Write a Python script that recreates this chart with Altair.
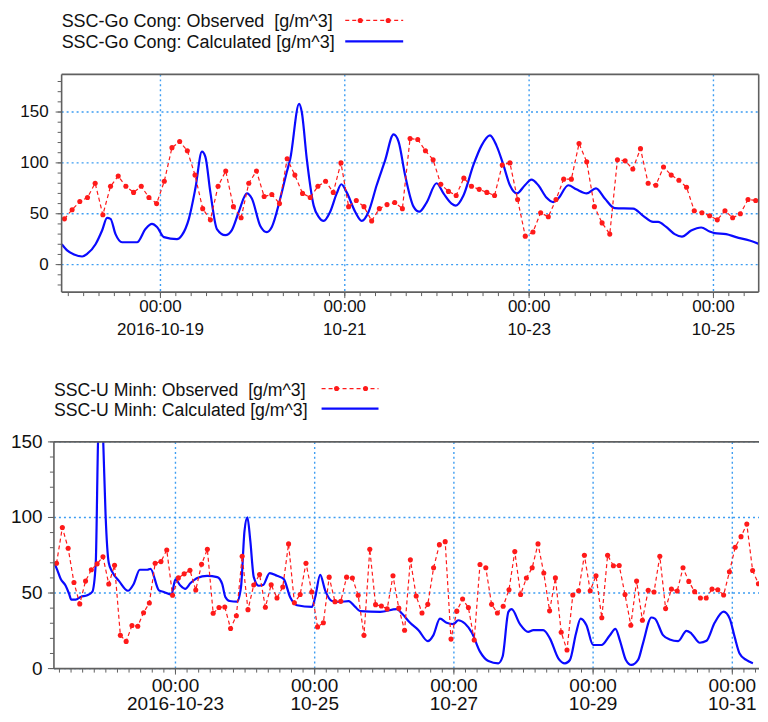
import altair as alt
import pandas as pd

FONT = "Liberation Sans, Arial, sans-serif"
RED = "#ff1a1a"
BLUE = "#0a0aff"
GRID = "#3d9df2"
FRAME = "#606060"
TXT = "#111111"
HOUR = 3600 * 1000


def ts(s):
    return int(pd.Timestamp(s, tz="UTC").value // 10**6)


# ---------------- Top panel: SSC-Go Cong ----------------
gc_obs_start = "2016-10-17 23:00"  # observed every 2 hours
gc_obs = [45, 54, 62, 66, 80, 49, 77, 87, 77, 71, 77, 66, 60, 82, 115, 121, 112, 88, 55, 44,
          77, 92, 57, 46, 80, 92, 67, 69, 60, 104,
          88, 70, 66, 77, 82, 71, 100, 57, 63, 57, 43, 55, 59, 61, 55, 124, 123, 112, 103, 79,
          72, 68, 85, 77, 74, 71, 68, 98, 100, 64,
          28, 32, 51, 47, 64, 84, 84, 119, 101, 57, 41, 30, 103, 102, 94, 114, 80, 78, 96, 88,
          83, 76, 53, 51, 48, 44, 53, 46, 50, 64, 63]

gc_calc_ref = "2016-10-18 00:00"  # hours counted from here
gc_calc_h = [-1.7, -0.3, 1.5, 3.6, 4.9, 7.1, 8.8, 10.1, 11.0, 12.3, 14.0, 17.9, 20.1, 21.8, 23.1,
             24.9, 28.3, 29.6, 31.4, 33.1, 34.8, 35.7, 37.0, 38.7, 40.9, 42.6, 44.4, 46.5, 47.8,
             50.0, 51.7, 53.0, 55.2, 56.9, 57.8, 60.1, 60.8, 62.1, 63.9, 65.2, 66.5, 68.2, 69.9,
             71.1, 72.5, 74.7, 76.4, 78.2, 80.3, 82.5, 84.7, 86.0, 87.7, 89.9, 91.4, 93.3, 95.9,
             97.7, 99.8, 100.9, 102.9, 105.5, 107.6, 109.8, 111.5, 113.3, 115.0, 116.8, 118.9,
             120.6, 122.4, 124.5, 126.3, 127.6, 130.2, 132.3, 135.0, 137.4, 139.7, 142.3, 147.1,
             149.7, 152.3, 153.6, 155.7, 157.9, 159.8, 162.2, 164.8, 167.0, 168.3, 171.3, 173.9,
             177.4, 179.8]
gc_calc_v = [20, 14, 10, 8, 10.5, 20, 33.5, 46, 45, 30, 22, 22, 35, 40, 37,
             27, 25, 29, 45, 75, 111, 106, 71, 35, 29, 34, 52, 70, 65,
             38, 32, 37, 65, 91, 104, 158, 150, 104, 58, 47, 43, 52, 70,
             79, 71, 52, 43, 52, 78, 102.5, 128, 121, 88, 57, 52, 61, 80,
             70, 60, 58, 68, 98, 117, 127, 117, 98, 78, 70, 78,
             83.5, 78, 66, 61.5, 65, 78, 74, 70, 75, 65, 55.5, 55,
             48, 42, 42, 37, 30, 27.6, 33.5, 36.5, 32.5, 31, 30, 27,
             23.7, 20.4]

gc_xdomain = ["2016-10-17 22:16", "2016-10-25 11:47"]
gc_ydomain = [-27, 187]
gc_xticks = ["2016-10-19", "2016-10-21", "2016-10-23", "2016-10-25"]
gc_time_labels = ["00:00", "00:00", "00:00", "00:00"]
gc_date_labels = ["2016-10-19", "10-21", "10-23", "10-25"]
gc_yticks = [0, 50, 100, 150]
gc_ylabels = ["0", "50", "100", "150"]
gc_names = ["SSC-Go Cong: Observed\u00a0\u00a0[g/m^3]", "SSC-Go Cong: Calculated [g/m^3]"]

# ---------------- Bottom panel: SSC-U Minh ----------------
um_obs_start = "2016-10-21 07:00"
um_obs = [69.7, 93.4, 79.6, 57, 42.8, 57.9, 65.4, 69.3, 74, 56, 68.4, 22, 18, 28.5, 28, 37, 43.4,
          69.7, 70.8, 78.5, 48.5, 60, 62.7, 65, 52, 69, 79, 36.6, 40.4, 40.8, 26.5, 35, 74.3, 39,
          55.3, 62.3, 40.6, 55.5, 46.7, 54, 82.5,
          43.6, 49, 69.7, 50.7, 27.6, 30.3, 60.5, 44.3, 44.5, 60.5, 59.9, 48.5, 22, 79, 42.3,
          41.4, 39.5, 61.4, 40, 25.4, 72, 48, 36.8, 42.5, 66.7, 82, 84, 19.5, 38, 46, 40.4, 18.9,
          68.9, 66.7, 42.5, 36.8, 41.2, 52.2, 77.4, 49, 59.9,
          66.7, 82.5, 63.2, 38.2, 60, 24, 12.3, 48.7, 51.5, 75, 51.5, 61.4, 33.6, 75, 68, 68.2,
          49, 28.7, 57.9, 32, 51.8, 50.7, 74.3, 39.7, 52.6, 51.3, 66.7, 57.7, 50.9, 46.7, 46.7,
          52.6, 52.2, 48.7, 64, 80.3, 87.3, 95.6, 64.9, 56.1, 60]

um_calc_ref = "2016-10-21 00:00"
um_calc_h = [6.1, 7.3, 8.4, 10.1, 11.3, 12.1, 13.6, 15.3, 17.6, 19.3, 20.5, 21.3, 22.2, 23.1,
             23.9, 25.0, 26.2, 28.5, 31.6, 33.6, 35.7, 38.3, 39.4, 42.3, 44.0, 46.6, 48.0, 49.7,
             51.4, 53.2, 55.5, 58.9, 62.4, 64.1, 65.2, 66.7, 69.2, 70.6, 71.8, 72.8, 73.8, 75.0,
             76.7, 78.2, 80.5, 83.0, 85.3, 87.6, 89.9, 95.1, 96.2, 97.9, 99.6, 102.0, 104.8,
             107.7, 110.0, 111.7, 118.6, 124.3, 126.1, 128.9, 131.8, 135.0, 136.9, 139.2, 141.5,
             143.8, 145.5, 147.8, 150.2, 153.0, 155.9, 159.3, 160.8, 162.8, 163.9, 166.8, 169.6,
             171.4, 174.8, 177.1, 180.0, 182.3, 184.0, 186.1, 187.7, 189.7, 192.0, 194.9, 197.8,
             199.7, 201.2, 203.3, 205.2, 207.5, 209.2, 212.1, 213.3, 216.1, 218.4, 221.3, 224.2,
             225.9, 228.8, 231.1, 233.9, 237.0, 239.1, 240.8, 242.5, 244.8, 247.1]
um_calc_v = [70.4, 65, 59.4, 55, 49.6, 45.6, 45.6, 47.4, 48.5, 50.7, 69, 150, 195, 150,
             102, 70, 64, 58, 51.5, 56, 65.4, 65.4, 66, 51.8, 50.7, 49, 59, 55,
             52.8, 56.6, 60, 61.4, 60.5, 56, 47.4, 44.7, 44.3, 54, 91, 100, 84.6, 60.5,
             54.8, 55.3, 63.2, 61.4, 59.4, 47, 41.9, 40.8, 47.4, 62, 51.8, 44.7, 44.1,
             44.7, 40.8, 38, 37.5, 39.3, 36.4, 30.3, 25.4, 18.2, 22, 33, 30.3,
             29.4, 32, 29.8, 23.7, 11.2, 5, 3.5, 8, 37.5, 39.3, 29.4, 24.3,
             25.4, 25.4, 20, 6.8, 3.5, 5.7, 23.2, 33.1, 28.7, 15.6, 15.6, 22.1,
             26.3, 18.9, 5.7, 2.4, 5.7, 16.7, 33.8, 33.1, 22.1, 19.3, 18.2, 25,
             23.2, 17.1, 18.4, 30.3, 37.7, 33.1, 21, 10, 5.7, 3.5]

um_xdomain = ["2016-10-21 06:06", "2016-10-31 09:12"]
um_ydomain = [0, 150]
um_xticks = ["2016-10-23", "2016-10-25", "2016-10-27", "2016-10-29", "2016-10-31"]
um_time_labels = ["00:00", "00:00", "00:00", "00:00", "00:00"]
um_date_labels = ["2016-10-23", "10-25", "10-27", "10-29", "10-31"]
um_yticks = [0, 50, 100, 150]
um_ylabels = ["0", "50", "100", "150"]
um_names = ["SSC-U Minh: Observed\u00a0\u00a0[g/m^3]", "SSC-U Minh: Calculated [g/m^3]"]

LEFT = 45.3  # room kept left of the (shared) view origin


def panel(obs_start, obs, calc_ref, calc_h, calc_v, xdom, ydom, xticks, time_labels,
          date_labels, yticks, ylabels, names, PW, H, xo, right_frame, axfs, ylab_dx, xlab_dy,
          legfs, leg_text_y, leg_line_y, leg_x, leg_dots):
    t0 = ts(obs_start)
    df_obs = pd.DataFrame({"t": [t0 + 2 * HOUR * i for i in range(len(obs))], "v": obs})
    r0 = ts(calc_ref)
    df_calc = pd.DataFrame({"t": [r0 + h * HOUR for h in calc_h], "v": calc_v})

    d0, d1 = ts(xdom[0]), ts(xdom[1])
    xvals = [ts(s) for s in xticks]
    xs = alt.Scale(type="utc", domain=[d0, d1], nice=False, range=[xo, xo + PW])
    ys = alt.Scale(domain=ydom, nice=False, zero=False)
    R = xo + PW

    def X(f):
        return alt.X(f, scale=xs, axis=None)

    def Y(f):
        return alt.Y(f, scale=ys, axis=None)

    df_xt = pd.DataFrame({"t": xvals, "hm": time_labels, "lab": date_labels})
    df_yt = pd.DataFrame({"v": yticks, "lab": ylabels})
    one = alt.Chart(alt.Data(values=[{"k": 1}]))

    # grid
    gx = alt.Chart(df_xt).mark_rule(color=GRID, strokeWidth=1.4, strokeDash=[2, 3]).encode(
        x=X("t:T"), y=alt.value(0), y2=alt.value(H))
    gy = alt.Chart(df_yt).mark_rule(color=GRID, strokeWidth=1.4, strokeDash=[2, 3]).encode(
        y=Y("v:Q"), x=alt.value(xo), x2=alt.value(R))

    # frame
    fr = [one.mark_rule(color=FRAME, strokeWidth=1.6).encode(
              x=alt.value(xo), x2=alt.value(R), y=alt.value(0)),
          one.mark_rule(color=FRAME, strokeWidth=1.6).encode(
              x=alt.value(xo), x2=alt.value(R), y=alt.value(H)),
          one.mark_rule(color=FRAME, strokeWidth=1.6).encode(
              x=alt.value(xo), y=alt.value(0), y2=alt.value(H))]
    if right_frame:
        fr.append(one.mark_rule(color=FRAME, strokeWidth=1.6).encode(
            x=alt.value(R), y=alt.value(0), y2=alt.value(H)))

    # ticks
    xminor = list(range(ts(xdom[0][:10]), d1 + 1, 4 * HOUR))
    xminor = [t for t in xminor if d0 <= t <= d1]
    yminor = [v for v in range(-100, 200, 10) if ydom[0] <= v <= ydom[1]]
    xt = alt.Chart(pd.DataFrame({"t": xminor})).mark_rule(color=FRAME, strokeWidth=1).encode(
        x=X("t:T"), y=alt.value(H), y2=alt.value(H + 4))
    yt = alt.Chart(pd.DataFrame({"v": yminor})).mark_rule(color=FRAME, strokeWidth=1).encode(
        y=Y("v:Q"), x=alt.value(xo), x2=alt.value(xo - 4))
    xT = alt.Chart(df_xt).mark_rule(color=FRAME, strokeWidth=1).encode(
        x=X("t:T"), y=alt.value(H), y2=alt.value(H + 6))
    yT = alt.Chart(df_yt).mark_rule(color=FRAME, strokeWidth=1).encode(
        y=Y("v:Q"), x=alt.value(xo), x2=alt.value(xo - 6))

    # data
    calc = alt.Chart(df_calc).mark_line(color=BLUE, strokeWidth=2.2, interpolate="monotone",
                                        clip=True).encode(x=X("t:T"), y=Y("v:Q"))
    obs_line = alt.Chart(df_obs).mark_line(color=RED, strokeWidth=1.2, strokeDash=[4, 3],
                                           clip=True).encode(x=X("t:T"), y=Y("v:Q"))
    obs_pts = alt.Chart(df_obs).mark_circle(color=RED, size=26, opacity=1, clip=True).encode(
        x=X("t:T"), y=Y("v:Q"))

    # tick labels
    ylab = alt.Chart(df_yt).mark_text(font=FONT, fontSize=axfs, color=TXT, align="right",
                                      baseline="middle").encode(
        y=Y("v:Q"), x=alt.value(xo - ylab_dx), text="lab:N")
    xlab1 = alt.Chart(df_xt).mark_text(font=FONT, fontSize=axfs, color=TXT, align="center",
                                       baseline="middle").encode(
        x=X("t:T"), y=alt.value(H + xlab_dy[0]), text="hm:N")
    xlab2 = alt.Chart(df_xt).mark_text(font=FONT, fontSize=axfs, color=TXT, align="center",
                                       baseline="middle").encode(
        x=X("t:T"), y=alt.value(H + xlab_dy[1]), text="lab:N")

    # legend (drawn above the plot area)
    t1 = one.mark_text(align="left", baseline="alphabetic", font=FONT, fontSize=legfs,
                       color=TXT).encode(x=alt.value(xo), y=alt.value(leg_text_y[0]),
                                         text=alt.value(names[0]))
    t2 = one.mark_text(align="left", baseline="alphabetic", font=FONT, fontSize=legfs,
                       color=TXT).encode(x=alt.value(xo), y=alt.value(leg_text_y[1]),
                                         text=alt.value(names[1]))
    l1 = one.mark_rule(color=RED, strokeWidth=1.2, strokeDash=[4, 3]).encode(
        x=alt.value(xo + leg_x[0]), x2=alt.value(xo + leg_x[1]), y=alt.value(leg_line_y[0]))
    l2 = one.mark_rule(color=BLUE, strokeWidth=2.2).encode(
        x=alt.value(xo + leg_x[0]), x2=alt.value(xo + leg_x[1]), y=alt.value(leg_line_y[1]))
    p1 = one.mark_circle(color=RED, size=26, opacity=1).encode(
        x=alt.value(xo + leg_dots[0]), y=alt.value(leg_line_y[0]))
    p2 = one.mark_circle(color=RED, size=26, opacity=1).encode(
        x=alt.value(xo + leg_dots[1]), y=alt.value(leg_line_y[0]))
    # invisible spacer fixing the room left of the view origin
    sp = one.mark_rule(strokeWidth=1, strokeOpacity=0, color="white").encode(
        x=alt.value(-LEFT), x2=alt.value(-LEFT + 2), y=alt.value(H / 2))

    layers = [gx, gy, xt, yt, xT, yT, calc, obs_line, obs_pts] + fr + \
             [ylab, xlab1, xlab2, t1, t2, l1, l2, p1, p2, sp]
    return alt.layer(*layers).properties(width=R, height=H)


top = panel(gc_obs_start, gc_obs, gc_calc_ref, gc_calc_h, gc_calc_v, gc_xdomain, gc_ydomain,
            gc_xticks, gc_time_labels, gc_date_labels, gc_yticks, gc_ylabels, gc_names,
            PW=698, H=218, xo=7.7, right_frame=True, axfs=17, ylab_dx=13,
            xlab_dy=(15.3, 37.5), legfs=18, leg_text_y=(-47.3, -26.7), leg_line_y=(-54, -33),
            leg_x=(284, 342), leg_dots=(299, 327))

bottom = panel(um_obs_start, um_obs, um_calc_ref, um_calc_h, um_calc_v, um_xdomain, um_ydomain,
               um_xticks, um_time_labels, um_date_labels, um_yticks, um_ylabels, um_names,
               PW=706, H=227, xo=0, right_frame=False, axfs=19, ylab_dx=11.3,
               xlab_dy=(17, 35.5), legfs=17.7, leg_text_y=(-45.7, -26),
               leg_line_y=(-53.4, -33.4), leg_x=(268, 325), leg_dots=(283, 312))

chart = alt.vconcat(top, bottom, spacing=44).properties(
    padding={"left": 0, "top": 4, "right": 0, "bottom": 0}
).configure_view(stroke="transparent", strokeWidth=0)

chart.save("out.html", embed_options={"renderer": "svg", "actions": False})
